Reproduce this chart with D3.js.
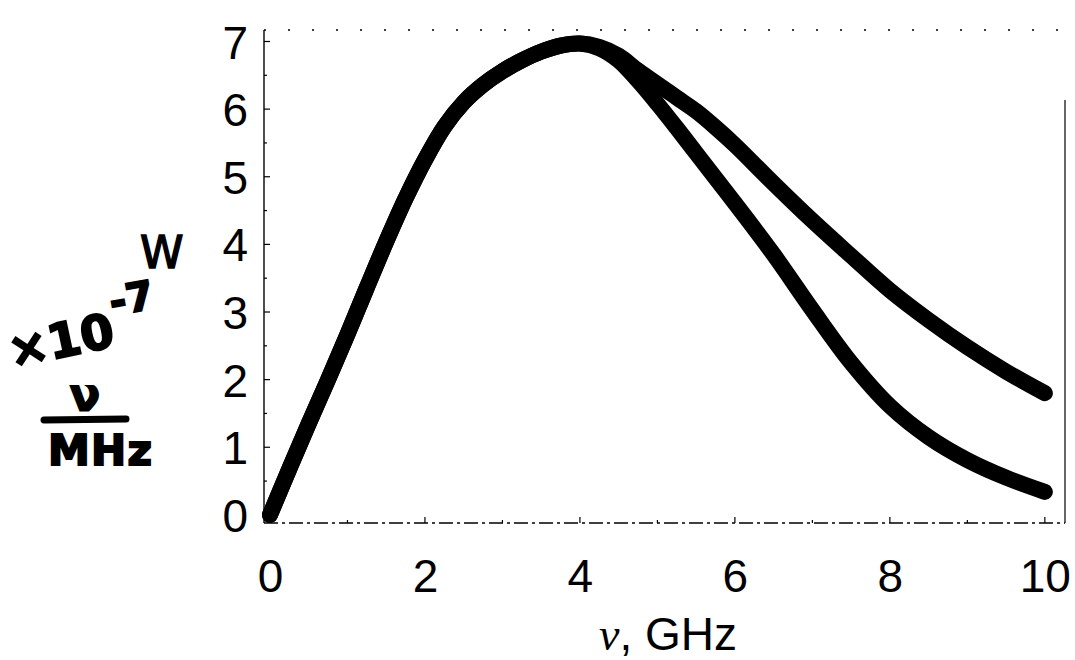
<!DOCTYPE html>
<html>
<head>
<meta charset="utf-8">
<script src="https://cdn.jsdelivr.net/npm/d3@7"></script>
<style>
  html, body { margin: 0; padding: 0; background: #fff; }
  svg { display: block; }
</style>
</head>
<body>
<svg id="chart" width="1075" height="660"></svg>
<script>
// ---- data ----
const freqGHz = [0, 0.25, 0.5, 0.75, 1.0, 1.25, 1.5, 1.75, 2.0, 2.25, 2.5, 2.75, 3.0, 3.25, 3.5, 3.75, 4.0, 4.25,
                 4.5, 4.75, 5.0, 5.25, 5.5, 5.75, 6.0, 6.5, 7.0, 7.5, 8.0, 8.5, 9.0, 9.5, 10.0];
const upperCurve = [0, 0.68, 1.35, 2.0, 2.67, 3.36, 4.04, 4.68, 5.25, 5.74, 6.1, 6.36, 6.56, 6.72, 6.85, 6.94, 6.97, 6.92,
                    6.79, 6.57, 6.37, 6.17, 5.97, 5.73, 5.47, 4.9, 4.35, 3.83, 3.32, 2.88, 2.48, 2.12, 1.8];
const lowerCurve = [0, 0.68, 1.35, 2.0, 2.67, 3.36, 4.04, 4.68, 5.25, 5.74, 6.1, 6.36, 6.56, 6.72, 6.85, 6.94, 6.97, 6.9,
                    6.72, 6.42, 6.08, 5.72, 5.35, 4.98, 4.61, 3.85, 3.03, 2.25, 1.61, 1.15, 0.81, 0.55, 0.34];
const xTicks = [0, 2, 4, 6, 8, 10];
const yTicks = [0, 1, 2, 3, 4, 5, 6, 7];
const xTitle = ["ν", ", GHz"];

// ---- layout ----
const svg = d3.select("#chart");
const x = d3.scaleLinear().domain([-0.077, 10.26]).range([264, 1065]);
const y = d3.scaleLinear().domain([-0.12, 7.17]).range([523, 30]);
const [x0, x1] = x.range();
const [y0, y1] = y.range();

// frame: left solid, bottom dashed, top dotted, right thin
svg.append("line").attr("x1", x0).attr("x2", x0).attr("y1", y1).attr("y2", y0)
  .attr("stroke", "#000").attr("stroke-width", 1.4);
svg.append("line").attr("x1", x0).attr("x2", x1).attr("y1", y0).attr("y2", y0)
  .attr("stroke", "#000").attr("stroke-width", 1.4).attr("stroke-dasharray", "14 4 3 4");
svg.append("line").attr("x1", x0).attr("x2", x1).attr("y1", y1).attr("y2", y1)
  .attr("stroke", "#000").attr("stroke-width", 1.5).attr("stroke-dasharray", "2 22");
svg.append("line").attr("x1", x1).attr("x2", x1).attr("y1", y1 + 70).attr("y2", y0)
  .attr("stroke", "#000").attr("stroke-width", 1.2);

// axes (labels only; inward ticks drawn below)
const yAxis = d3.axisLeft(y).tickValues(yTicks).tickSize(0).tickPadding(16)
  .tickFormat(d3.format("d"));
const gy = svg.append("g").attr("transform", `translate(${x0},0)`).call(yAxis);
gy.select(".domain").remove();
gy.selectAll("text").attr("font-family", "Liberation Sans, Arial, sans-serif")
  .attr("font-size", 46).attr("fill", "#000").attr("dy", "0.36em");

const xAxis = d3.axisBottom(x).tickValues(xTicks).tickSize(0).tickPadding(36)
  .tickFormat(d3.format("d"));
const gx = svg.append("g").attr("transform", `translate(0,${y0})`).call(xAxis);
gx.select(".domain").remove();
gx.selectAll("text").attr("font-family", "Liberation Sans, Arial, sans-serif")
  .attr("font-size", 46).attr("fill", "#000");

// small inward tick marks
const yMinor = d3.range(0, 7.01, 0.5);
svg.append("g").selectAll("line").data(yMinor).join("line")
  .attr("x1", x0).attr("x2", d => x0 + (Number.isInteger(d) ? 6 : 3))
  .attr("y1", d => y(d)).attr("y2", d => y(d))
  .attr("stroke", "#000").attr("stroke-width", 1.2);
const xMinor = d3.range(0, 10.01, 1);
svg.append("g").selectAll("line").data(xMinor).join("line")
  .attr("x1", d => x(d)).attr("x2", d => x(d))
  .attr("y1", y0).attr("y2", d => y0 - (d % 2 === 0 ? 6 : 3))
  .attr("stroke", "#000").attr("stroke-width", 1.2);

// curves
const line = d3.line().curve(d3.curveCatmullRom.alpha(0.5));
[upperCurve, lowerCurve].forEach(series => {
  svg.append("path")
    .attr("d", line(freqGHz.map((f, i) => [x(f), y(series[i])])))
    .attr("fill", "none").attr("stroke", "#000").attr("stroke-width", 16)
    .attr("stroke-linecap", "round").attr("stroke-linejoin", "round");
});

// x-axis title
const t = svg.append("text").attr("x", 668).attr("y", 650).attr("text-anchor", "middle")
  .attr("font-size", 46).attr("fill", "#000");
t.append("tspan").attr("font-family", "Liberation Serif, Times New Roman, serif")
  .attr("font-style", "italic").text(xTitle[0]);
t.append("tspan").attr("font-family", "Liberation Sans, Arial, sans-serif").text(xTitle[1]);

// handwritten unit annotation
const hand = svg.append("g").attr("font-family", "DejaVu Sans, sans-serif")
  .attr("font-weight", "bold").attr("fill", "#000").attr("stroke", "#000").attr("stroke-width", 2);
hand.append("text").attr("x", 12).attr("y", 368).attr("font-size", 48)
  .attr("transform", "rotate(-12 12 368)").text("×10");
hand.append("text").attr("x", 112).attr("y", 316).attr("font-size", 40)
  .attr("transform", "rotate(-10 112 316)").text("-7");
hand.append("text").attr("x", 140).attr("y", 268).attr("font-size", 44)
  .attr("font-weight", "normal").attr("stroke-width", 1.5).text("W");
hand.append("text").attr("x", 85).attr("y", 410).attr("font-size", 44)
  .attr("text-anchor", "middle").text("ν");
hand.append("line").attr("x1", 44).attr("x2", 126).attr("y1", 420).attr("y2", 419)
  .attr("stroke-width", 7).attr("stroke-linecap", "round");
hand.append("text").attr("x", 100).attr("y", 465).attr("font-size", 42)
  .attr("text-anchor", "middle").attr("textLength", 104).text("MHz");
</script>
</body>
</html>
